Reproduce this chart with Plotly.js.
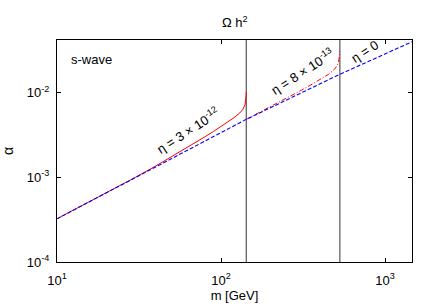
<!DOCTYPE html>
<html>
<head>
<meta charset="utf-8">
<script src="https://cdn.plot.ly/plotly-3.0.1.min.js"></script>
<style>html,body{margin:0;padding:0;background:#fff;}#chart{width:436px;height:305px;}</style>
</head>
<body>
<div id="chart"></div>
<script>
// eta = 0 (blue dashed)
const mBlue = [10, 20, 50, 100, 142.5, 200, 300, 530, 800, 1000, 1500];
const alphaBlue = [3.24e-4, 6.57e-4, 1.67e-3, 3.38e-3, 4.84e-3, 6.64e-3, 9.68e-3, 1.648e-2, 2.36e-2, 2.87e-2, 4.09e-2];
// eta = 3e-12 (red solid)
const mRed1 = [10, 20, 30, 40, 50, 60, 70, 80, 90, 100, 110, 120, 130, 136, 140, 141.5, 142.2, 142.5];
const alphaRed1 = [3.243e-4, 6.567e-4, 9.99e-4, 1.361e-3, 1.748e-3, 2.153e-3, 2.578e-3, 3.022e-3, 3.486e-3, 3.972e-3, 4.478e-3, 5.064e-3, 5.754e-3, 6.38e-3, 7.205e-3, 8.175e-3, 9.22e-3, 1.013e-2];
// eta = 8e-13 (red dash-dot)
const mRed2 = [142.5, 160, 200, 250, 300, 350, 400, 450, 490, 510, 520, 526, 529, 530];
const alphaRed2 = [4.842e-3, 5.44e-3, 6.823e-3, 8.59e-3, 1.037e-2, 1.224e-2, 1.418e-2, 1.638e-2, 1.878e-2, 2.089e-2, 2.28e-2, 2.526e-2, 2.849e-2, 3.093e-2];
// vertical lines
const vLines = [142.5, 530];
const xTicks = [10, 100, 1000];
const xTickText = ['10<sup>1</sup>', '10<sup>2</sup>', '10<sup>3</sup>'];
const yTicks = [1e-4, 1e-3, 1e-2];
const yTickText = ['10<sup>-4</sup>', '10<sup>-3</sup>', '10<sup>-2</sup>'];
const labels = [
  {text: 'η = 3 × 10<sup>-12</sup>', m: 63, a: 3.6e-3},
  {text: 'η = 8 × 10<sup>-13</sup>', m: 313, a: 1.82e-2},
  {text: 'η = 0', m: 750, a: 3.1e-2}
];

const font = 'Liberation Sans, Arial, Helvetica, sans-serif';
const traces = [];
vLines.forEach(v => traces.push({x: [v, v], y: [1e-5, 1], mode: 'lines', line: {color: '#555', width: 1.2}, hoverinfo: 'skip', showlegend: false}));
traces.push({x: mRed1, y: alphaRed1, mode: 'lines', line: {color: '#ff0000', width: 1}, showlegend: false});
traces.push({x: mRed2, y: alphaRed2, mode: 'lines', line: {color: '#ff0000', width: 1, dash: '5px,2px,1px,2px'}, showlegend: false});
traces.push({x: mBlue, y: alphaBlue, mode: 'lines', line: {color: '#0000ff', width: 1.1, dash: '4px,2px'}, showlegend: false});

const anns = labels.map(l => ({x: Math.log10(l.m), y: Math.log10(l.a), xref: 'x', yref: 'y', text: l.text, showarrow: false, textangle: -33, font: {family: font, size: 13, color: '#000'}}));
anns.push({x: 0.035, y: 0.91, xref: 'paper', yref: 'paper', xanchor: 'left', yanchor: 'middle', text: 's-wave', showarrow: false, font: {family: font, size: 13, color: '#000'}});
anns.push({x: 0.5, y: 1.081, xref: 'paper', yref: 'paper', xanchor: 'center', yanchor: 'middle', text: 'Ω h<sup>2</sup>', showarrow: false, font: {family: font, size: 13, color: '#000'}});

const axisCommon = {type: 'log', showgrid: false, zeroline: false, showline: true, linecolor: '#000', linewidth: 1, mirror: 'ticks', ticks: 'inside', ticklen: 4, tickcolor: '#000', tickfont: {family: font, size: 13, color: '#000'}, automargin: false};

const layout = {
  width: 436, height: 305,
  margin: {l: 57, r: 24, t: 40, b: 43},
  paper_bgcolor: '#fff', plot_bgcolor: '#fff',
  xaxis: Object.assign({}, axisCommon, {range: [1, 3.164], tickvals: xTicks, ticktext: xTickText, ticklabelstandoff: 6, title: {text: 'm [GeV]', font: {family: font, size: 13, color: '#000'}, standoff: 4}}),
  yaxis: Object.assign({}, axisCommon, {range: [-4, -1.378], tickvals: yTicks, ticktext: yTickText, ticklabelstandoff: 4, title: {text: 'α', font: {family: font, size: 14, color: '#000'}, standoff: 12}}),
  annotations: anns
};
Plotly.newPlot('chart', traces, layout, {displayModeBar: false, staticPlot: true});
</script>
</body>
</html>
